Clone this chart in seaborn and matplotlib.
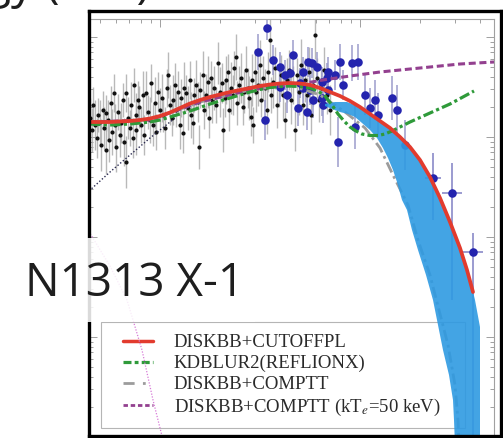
import numpy as np
import matplotlib
matplotlib.use("Agg")
import matplotlib.pyplot as plt
import seaborn as sns
from matplotlib.lines import Line2D
from matplotlib.patches import Rectangle
from matplotlib.ticker import FixedLocator

# ---------------- data (log10 energy [keV], log10 E F(E) [arb.]) ----------------
black_x = [-0.350, -0.340, -0.335, -0.325, -0.315, -0.310, -0.300, -0.295, -0.285, -0.280,
           -0.270, -0.270, -0.260, -0.255, -0.245, -0.240, -0.230, -0.225, -0.220, -0.210,
           -0.200, -0.195, -0.185, -0.180, -0.170, -0.170, -0.160, -0.150, -0.145, -0.135,
           -0.130, -0.120, -0.120, -0.110, -0.105, -0.095, -0.085, -0.080, -0.070, -0.060,
           -0.050, -0.045, -0.035, -0.025, -0.020, -0.010, 0.000, 0.010, 0.015, 0.025,
           0.035, 0.040, 0.050, 0.060, 0.065, 0.075, 0.080, 0.090, 0.100, 0.105,
           0.115, 0.120, 0.130, 0.140, 0.150, 0.155, 0.165, 0.170, 0.180, 0.190,
           0.195, 0.200, 0.215, 0.220, 0.230, 0.240, 0.245, 0.255, 0.260, 0.270,
           0.280, 0.290, 0.300, 0.310, 0.315, 0.325, 0.330, 0.340, 0.345, 0.355,
           0.365, 0.370, 0.380, 0.385, 0.395, 0.405, 0.415, 0.420, 0.430, 0.440,
           0.445, 0.455, 0.460, 0.465, 0.475, 0.480, 0.490, 0.500, 0.505, 0.515,
           0.525, 0.535, 0.540, 0.550, 0.555, 0.565, 0.575, 0.585, 0.595, 0.605,
           0.615, 0.625, 0.635, 0.645, 0.655, 0.665, 0.675, 0.685, 0.695, 0.705,
           0.715, 0.725, 0.735, 0.745, 0.755, 0.765, 0.775, 0.785, 0.795, 0.805,
           0.820, 0.835, 0.850]
black_y = [1.19, 1.07, 1.32, 1.12, 0.99, 1.22, 1.15, 0.92, 1.27, 1.09,
           1.24, 0.87, 1.17, 0.97, 1.34, 1.05, 1.44, 1.12, 0.90, 1.25,
           1.02, 1.14, 1.37, 0.95, 1.44, 0.75, 1.19, 1.09, 1.32, 0.99,
           1.52, 1.22, 1.07, 1.37, 1.30, 1.12, 1.42, 1.02, 1.44, 1.25,
           1.17, 1.54, 1.12, 1.34, 1.05, 1.45, 1.27, 1.39, 1.22, 1.09,
           1.49, 1.62, 1.32, 1.19, 1.37, 1.52, 1.27, 1.45, 1.12, 1.39,
           1.04, 1.49, 1.44, 1.29, 1.57, 1.22, 1.14, 1.42, 1.52, 1.35,
           0.90, 1.47, 1.62, 1.27, 1.42, 1.55, 1.19, 1.59, 1.37, 1.49,
           1.32, 1.74, 1.45, 1.54, 1.07, 1.39, 1.57, 1.65, 1.27, 1.49,
           1.42, 1.69, 1.80, 1.34, 1.52, 1.59, 1.30, 1.45, 1.67, 1.49,
           1.39, 1.20, 1.57, 1.12, 1.65, 1.45, 1.52, 1.72, 1.37, 1.59,
           1.49, 1.27, 1.65, 1.97, 1.42, 1.55, 1.69, 1.32, 1.49, 1.62,
           1.42, 1.17, 1.57, 1.67, 1.37, 1.52, 1.07, 1.62, 1.45, 1.72,
           1.32, 1.57, 1.42, 1.65, 1.22, 1.52, 2.02, 1.59, 1.37, 1.49,
           1.67, 1.42, 1.27]
black_err = [0.20, 0.22, 0.18, 0.25, 0.20, 0.17, 0.22, 0.26, 0.19, 0.21,
             0.18, 0.24, 0.20, 0.22, 0.17, 0.23, 0.19, 0.21, 0.25, 0.18,
             0.22, 0.20, 0.17, 0.24, 0.19, 0.26, 0.21, 0.18, 0.23, 0.20,
             0.17, 0.22, 0.25, 0.19, 0.21, 0.18, 0.24, 0.20, 0.22, 0.17,
             0.23, 0.19, 0.21, 0.26, 0.18, 0.20, 0.22, 0.24, 0.17, 0.21,
             0.19, 0.23, 0.20, 0.18, 0.25, 0.22, 0.17, 0.21, 0.24, 0.19,
             0.20, 0.26, 0.18, 0.22, 0.19, 0.23, 0.21, 0.17, 0.25, 0.20,
             0.22, 0.18, 0.24, 0.19, 0.21, 0.26, 0.20, 0.17, 0.23, 0.22,
             0.18, 0.21, 0.25, 0.20, 0.22, 0.19, 0.24, 0.18, 0.21, 0.26,
             0.20, 0.17, 0.23, 0.22, 0.19, 0.25, 0.18, 0.21, 0.24, 0.20,
             0.22, 0.19, 0.26, 0.18, 0.23, 0.20, 0.21, 0.25, 0.17, 0.22,
             0.19, 0.24, 0.20, 0.22, 0.18, 0.26, 0.21, 0.23, 0.19, 0.20,
             0.25, 0.18, 0.22, 0.20, 0.24, 0.19, 0.21, 0.17, 0.23, 0.26,
             0.20, 0.22, 0.18, 0.25, 0.19, 0.21, 0.24, 0.20, 0.22, 0.18,
             0.23, 0.19, 0.25]

blue_x = [0.49, 0.535, 0.525, 0.565, 0.60, 0.60, 0.625, 0.635, 0.65, 0.665,
          0.69, 0.70, 0.715, 0.715, 0.735, 0.74, 0.75, 0.76, 0.765, 0.785,
          0.81, 0.81, 0.815, 0.835, 0.84, 0.84, 0.875, 0.89, 0.90, 0.915,
          0.96, 0.975, 0.99, 1.025, 1.05, 1.075, 1.09, 1.16, 1.185, 1.225]
blue_y = [1.85, 2.09, 1.17, 1.77, 1.70, 1.50, 1.62, 1.42, 1.64, 1.82,
          1.29, 1.54, 1.65, 1.49, 1.25, 1.75, 1.47, 1.74, 1.37, 1.70,
          1.55, 1.39, 1.32, 1.59, 1.65, 1.47, 1.62, 0.95, 1.75, 1.52,
          1.74, 1.10, 1.75, 1.42, 1.29, 1.37, 1.22, 1.39, 1.27, 0.92]
blue_err = [0.18, 0.12, 0.20, 0.15, 0.15, 0.15, 0.15, 0.18, 0.15, 0.15,
            0.18, 0.15, 0.15, 0.15, 0.18, 0.15, 0.15, 0.15, 0.18, 0.15,
            0.15, 0.18, 0.18, 0.15, 0.15, 0.15, 0.15, 0.25, 0.18, 0.15,
            0.18, 0.22, 0.18, 0.20, 0.20, 0.20, 0.22, 0.22, 0.25, 0.25]
# high-energy bins (asymmetric errors)
hi_x = [1.365, 1.46, 1.565]
hi_y = [0.59, 0.44, -0.15]
hi_xerr = [0.04, 0.05, 0.05]
hi_err_lo = [0.42, 1.07, 1.90]
hi_err_hi = [0.25, 0.30, 0.19]

red_x = [-0.35, -0.30, -0.25, -0.20, -0.15, -0.10, -0.05, 0.00, 0.05, 0.10,
         0.15, 0.20, 0.25, 0.30, 0.35, 0.40, 0.45, 0.50, 0.55, 0.60,
         0.65, 0.70, 0.75, 0.80, 0.85, 0.90, 0.95, 1.00, 1.05, 1.10,
         1.15, 1.20, 1.25, 1.30, 1.35, 1.40, 1.45, 1.50, 1.535, 1.565]
red_y = [1.15, 1.15, 1.15, 1.155, 1.16, 1.17, 1.185, 1.21, 1.245, 1.29,
         1.335, 1.37, 1.40, 1.425, 1.45, 1.47, 1.49, 1.51, 1.525, 1.535,
         1.54, 1.535, 1.52, 1.49, 1.45, 1.41, 1.36, 1.30, 1.23, 1.16,
         1.09, 1.00, 0.90, 0.77, 0.60, 0.39, 0.15, -0.11, -0.33, -0.55]

green_x = [-0.35, -0.30, -0.25, -0.20, -0.15, -0.10, -0.05, 0.00, 0.05, 0.10,
           0.15, 0.20, 0.25, 0.30, 0.35, 0.40, 0.45, 0.50, 0.55, 0.60,
           0.65, 0.70, 0.75, 0.79, 0.825, 0.86, 0.89, 0.92, 0.95, 0.98,
           1.01, 1.05, 1.09, 1.125, 1.16, 1.20, 1.25, 1.30, 1.35, 1.40,
           1.45, 1.51, 1.57]
green_y = [1.13, 1.125, 1.12, 1.125, 1.13, 1.14, 1.15, 1.17, 1.20, 1.23,
           1.26, 1.295, 1.33, 1.36, 1.39, 1.42, 1.45, 1.475, 1.495, 1.505,
           1.51, 1.505, 1.49, 1.46, 1.41, 1.32, 1.23, 1.16, 1.10, 1.06,
           1.03, 1.015, 1.015, 1.03, 1.06, 1.10, 1.15, 1.195, 1.24, 1.285,
           1.33, 1.395, 1.46]

grey_x = [-0.35, -0.05, 0.20, 0.45, 0.65, 0.80, 0.925, 1.025, 1.10, 1.165, 1.24,
          1.29, 1.35, 1.395, 1.44, 1.475, 1.49, 1.495]
grey_y = [1.15, 1.17, 1.35, 1.47, 1.52, 1.42, 1.25, 1.09, 0.89, 0.62, 0.32,
          -0.03, -0.38, -0.73, -1.08, -1.48, -1.83, -2.08]

purple_x = [-0.35, -0.05, 0.20, 0.45, 0.60, 0.70, 0.815, 0.95, 1.10, 1.30, 1.50, 1.67]
purple_y = [1.15, 1.17, 1.35, 1.47, 1.51, 1.53, 1.57, 1.61, 1.65, 1.69, 1.73, 1.75]

band_upper_x = [0.825, 0.875, 0.935, 1.00, 1.065, 1.11, 1.15, 1.20, 1.265, 1.31,
                1.35, 1.385, 1.415, 1.445, 1.475, 1.51, 1.545, 1.575, 1.60, 1.60]
band_upper_y = [1.33, 1.35, 1.35, 1.30, 1.22, 1.16, 1.09, 0.99, 0.85, 0.73,
                0.60, 0.47, 0.32, 0.15, 0.01, -0.15, -0.38, -0.63, -0.90, -2.08]
band_lower_x = [1.475, 1.47, 1.465, 1.445, 1.415, 1.39, 1.365, 1.33, 1.29, 1.26,
                1.235, 1.21, 1.185, 1.165, 1.14, 1.115, 1.085, 1.05, 1.01, 0.975,
                0.94, 0.90, 0.86, 0.825]
band_lower_y = [-2.08, -1.83, -1.63, -1.38, -1.13, -0.88, -0.63, -0.38, -0.13, 0.07,
                0.27, 0.37, 0.55, 0.67, 0.79, 0.89, 0.99, 1.07, 1.14, 1.20,
                1.23, 1.25, 1.28, 1.31]

disk_x = [-0.355, -0.25, -0.15, -0.05, 0.075]
disk_y = [0.46, 0.65, 0.82, 0.99, 1.19]

pink_x = [-0.40, -0.345, -0.25, -0.165, -0.09, -0.035, 0.015]
pink_y = [0.17, 0.02, -0.29, -0.63, -1.13, -1.63, -2.03]

legend_labels = ["DISKBB+CUTOFFPL", "KDBLUR2(REFLIONX)", "DISKBB+COMPTT",
                 "DISKBB+COMPTT (kT$_e$=50 keV)"]
title_text = "N1313 X-1"
axis_text = "Energy (keV)"

# ---------------- styling ----------------
sns.set_theme(style="white")
plt.rcParams['font.family'] = ['DejaVu Sans']
plt.rcParams['mathtext.fontset'] = 'stix'

RED = "#e23b2e"
GREEN = "#2f9a3a"
GREY = "#9c9c9c"
PURPLE = "#93408f"
BAND = "#2e9ae2"
BLUE = "#2424ae"

W, H = 503, 438
fig = plt.figure(figsize=(W / 100, H / 100), dpi=100)
fig.patch.set_facecolor("white")
ax = fig.add_axes([89 / W, 0, 405 / W, 419 / H])
ax.set_xlim(-0.355, 1.67)
ax.set_ylim(-2.01, 2.18)
ax.set_facecolor("white")

for s in ["top", "right", "left"]:
    ax.spines[s].set_color("#a0a0a0")
    ax.spines[s].set_linewidth(0.8)
ax.spines["bottom"].set_visible(False)

xmin = [np.log10(n) + k for k in (-1, 0, 1) for n in range(2, 10)]
ymin = [np.log10(n) + k for k in (-3, -2, -1, 0, 1, 2) for n in range(2, 10)]
ax.xaxis.set_major_locator(FixedLocator([0, 1]))
ax.xaxis.set_minor_locator(FixedLocator(xmin))
ax.yaxis.set_major_locator(FixedLocator([-2, -1, 0, 1, 2]))
ax.yaxis.set_minor_locator(FixedLocator(ymin))
ax.tick_params(which="both", direction="in", top=True, right=True, bottom=False,
               left=True, labelbottom=False, labelleft=False, color="#a0a0a0", width=0.7)
ax.tick_params(which="major", length=6)
ax.tick_params(which="minor", length=3)
ax.set_xlabel("")
ax.set_ylabel("")

# legend frame (part of the original figure)
ax.add_patch(Rectangle(((101 - 89) / 405, (438 - 428) / 419), (465 - 101) / 405,
                       (428 - 322) / 419, transform=ax.transAxes, facecolor="white",
                       edgecolor="#b5b5b5", lw=0.8, zorder=1))

# data points
ax.errorbar(black_x, black_y, yerr=black_err, fmt="none", ecolor="#adadad",
            elinewidth=1.0, alpha=0.85, zorder=2)
sns.scatterplot(x=black_x, y=black_y, ax=ax, color="#111111", s=9, linewidth=0, zorder=3)
ax.errorbar(blue_x, blue_y, yerr=blue_err, fmt="none", ecolor="#9a9acb",
            elinewidth=1.2, alpha=0.9, zorder=2.5)
ax.errorbar(hi_x, hi_y, xerr=hi_xerr, yerr=[hi_err_lo, hi_err_hi], fmt="none",
            ecolor="#8080c4", elinewidth=1.1, zorder=2.5)
sns.scatterplot(x=blue_x + hi_x, y=blue_y + hi_y, ax=ax, color=BLUE, s=38,
                linewidth=0, zorder=3.2)

# model components
sns.lineplot(x=disk_x, y=disk_y, ax=ax, color="#2a2a50", lw=1.0, linestyle=(0, (1, 1.5)),
             sort=False, estimator=None, zorder=3.3)
sns.lineplot(x=pink_x, y=pink_y, ax=ax, color="#d77ad7", lw=0.9, linestyle=(0, (1, 1.3)),
             sort=False, estimator=None, zorder=3.6)
sns.lineplot(x=grey_x, y=grey_y, ax=ax, color=GREY, lw=2.0, linestyle=(0, (4, 1.5, 1, 1.5)),
             sort=False, estimator=None, zorder=3.4)
sns.lineplot(x=purple_x, y=purple_y, ax=ax, color=PURPLE, lw=2.2, linestyle=(0, (2.3, 1.2)),
             sort=False, estimator=None, zorder=3.5)

# blue uncertainty band
ax.fill(band_upper_x + band_lower_x, band_upper_y + band_lower_y, color=BAND,
        alpha=0.9, lw=0, zorder=4.5)

sns.lineplot(x=green_x, y=green_y, ax=ax, color=GREEN, lw=2.3, linestyle=(0, (3.3, 1, 1, 1)),
             sort=False, estimator=None, zorder=5)
sns.lineplot(x=red_x, y=red_y, ax=ax, color=RED, lw=2.7, sort=False, estimator=None,
             zorder=6)

handles = [Line2D([], [], color=RED, lw=2.5),
           Line2D([], [], color=GREEN, lw=2.3, linestyle=(0, (2.5, 1, 1.2, 1))),
           Line2D([], [], color=GREY, lw=2.0, linestyle=(0, (4, 3, 1, 3))),
           Line2D([], [], color=PURPLE, lw=2.0, linestyle=(0, (1.6, 1.0)))]
leg = ax.legend(handles, legend_labels, loc="upper left",
                bbox_to_anchor=((123 - 89) / 405, (438 - 334) / 419),
                frameon=False, borderpad=0, borderaxespad=0, handlelength=1.6,
                handletextpad=1.1, labelspacing=0.2,
                prop={"family": "Liberation Serif", "size": 13.5})
for t in leg.get_texts():
    t.set_color("#2a2a2a")
leg.set_zorder(3.55)

# slide overlay: thick frame, title box and text
fl = dict(transform=fig.transFigure, color="black", lw=2.4, zorder=8,
          solid_capstyle="projecting")
L, R, T, B = 88.5 / W, 501 / W, 1 - 10.5 / H, 1 - 435.5 / H
fig.add_artist(Line2D([L, L], [B, T], **fl))
fig.add_artist(Line2D([L, R], [T, T], **fl))
fig.add_artist(Line2D([L, R], [B, B], **fl))
fig.add_artist(Line2D([R, R], [B, T], **fl))
fig.add_artist(Rectangle((0, 1 - 322 / H), 255 / W, 84 / H, transform=fig.transFigure,
                         facecolor="white", edgecolor="none", alpha=0.86, zorder=9))
fig.text(25 / W, 1 - 296 / H, title_text, ha="left", va="baseline", fontsize=33,
         family=["Open Sans", "DejaVu Sans"], color="#1e1e1e", zorder=10)
fig.text(150 / W, 1 + 2 / H, axis_text, ha="right", va="baseline", fontsize=33,
         family=["Open Sans", "DejaVu Sans"], color="#1e1e1e", zorder=10)

fig.savefig("out.png", dpi=100, facecolor="white")
